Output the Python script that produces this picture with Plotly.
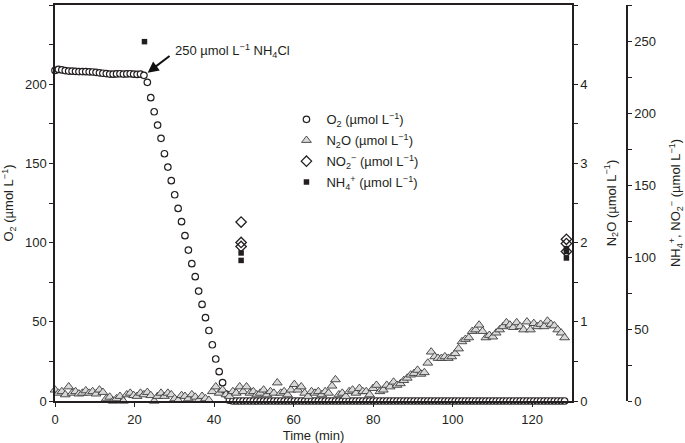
import plotly.graph_objects as go

# ---- data ----
time_min = [
    0.0, 0.86, 1.72, 2.58, 3.44, 4.3, 5.16, 6.02, 6.88, 7.74,
    8.6, 9.46, 10.32, 11.18, 12.04, 12.9, 13.76, 14.62, 15.48, 16.34,
    17.2, 18.06, 18.92, 19.78, 20.64, 21.5, 22.36, 23.22, 24.08, 24.94,
    25.8, 26.66, 27.52, 28.38, 29.24, 30.1, 30.96, 31.82, 32.68, 33.54,
    34.4, 35.26, 36.12, 36.98, 37.84, 38.7, 39.56, 40.42, 41.28, 42.14,
    43.0, 43.86, 44.72, 45.58, 46.44, 47.3, 48.16, 49.02, 49.88, 50.74,
    51.6, 52.46, 53.32, 54.18, 55.04, 55.9, 56.76, 57.62, 58.48, 59.34,
    60.2, 61.06, 61.92, 62.78, 63.64, 64.5, 65.36, 66.22, 67.08, 67.94,
    68.8, 69.66, 70.52, 71.38, 72.24, 73.1, 73.96, 74.82, 75.68, 76.54,
    77.4, 78.26, 79.12, 79.98, 80.84, 81.7, 82.56, 83.42, 84.28, 85.14,
    86.0, 86.86, 87.72, 88.58, 89.44, 90.3, 91.16, 92.02, 92.88, 93.74,
    94.6, 95.46, 96.32, 97.18, 98.04, 98.9, 99.76, 100.62, 101.48, 102.34,
    103.2, 104.06, 104.92, 105.78, 106.64, 107.5, 108.36, 109.22, 110.08, 110.94,
    111.8, 112.66, 113.52, 114.38, 115.24, 116.1, 116.96, 117.82, 118.68, 119.54,
    120.4, 121.26, 122.12, 122.98, 123.84, 124.7, 125.56, 126.42, 127.28, 128.14,
]

o2_values = [
    208.7, 209.3, 209.0, 208.6, 208.3, 208.2, 208.1, 208.0, 208.0, 207.9,
    207.8, 207.7, 207.5, 207.2, 206.9, 206.7, 206.4, 206.3, 206.5, 206.6,
    206.4, 206.5, 206.6, 206.3, 206.2, 206.4, 205.6, 201.2, 191.5, 182.6,
    174.2, 165.8, 156.1, 147.7, 139.1, 130.2, 121.6, 113.2, 104.4, 95.3,
    86.7, 78.5, 69.4, 61.0, 52.6, 44.5, 35.5, 26.5, 18.5, 11.6,
    4.4, 0.5, 0, 0, 0, 0, 0, 0, 0, 0,
    0, 0, 0, 0, 0, 0, 0, 0, 0, 0,
    0, 0, 0, 0, 0, 0, 0, 0, 0, 0,
    0, 0, 0, 0, 0, 0, 0, 0, 0, 0,
    0, 0, 0, 0, 0, 0, 0, 0, 0, 0,
    0, 0, 0, 0, 0, 0, 0, 0, 0, 0,
    0, 0, 0, 0, 0, 0, 0, 0, 0, 0,
    0, 0, 0, 0, 0, 0, 0, 0, 0, 0,
    0, 0, 0, 0, 0, 0, 0, 0, 0, 0,
    0, 0, 0, 0, 0, 0, 0, 0, 0, 0,
]

n2o_values = [
    0.14, 0.10, 0.12, 0.08, 0.18, 0.10, 0.12, 0.09, 0.10, 0.13,
    0.10, 0.12, 0.09, 0.14, 0.11, 0.03, 0.05, 0.00, 0.03, 0.06,
    0.00, 0.08, 0.10, 0.07, 0.06, 0.10, 0.08, 0.11, 0.07, 0.00,
    0.06, 0.10, 0.06, 0.10, 0.08, 0.03, 0.01, 0.07, 0.06, 0.03,
    0.08, 0.05, 0.01, 0.06, 0.03, 0.01, 0.12, 0.18, 0.10, 0.14,
    0.08, 0.06, 0.12, 0.10, 0.18, 0.12, 0.18, 0.10, 0.12, 0.08,
    0.10, 0.14, 0.08, 0.12, 0.10, 0.23, 0.10, 0.12, 0.08, 0.14,
    0.21, 0.14, 0.18, 0.10, 0.06, 0.12, 0.10, 0.12, 0.08, 0.12,
    0.10, 0.19, 0.27, 0.08, 0.10, 0.06, 0.12, 0.14, 0.10, 0.16,
    0.12, 0.12, 0.08, 0.16, 0.20, 0.12, 0.14, 0.20, 0.18, 0.24,
    0.20, 0.22, 0.26, 0.29, 0.33, 0.35, 0.39, 0.34, 0.36, 0.48,
    0.62, 0.56, 0.54, 0.54, 0.56, 0.54, 0.56, 0.60, 0.66, 0.75,
    0.78, 0.80, 0.88, 0.90, 0.96, 0.88, 0.80, 0.83, 0.81, 0.86,
    0.90, 0.94, 0.99, 0.96, 0.93, 0.99, 0.94, 0.90, 1.00, 0.90,
    0.98, 0.94, 0.97, 0.94, 1.01, 0.97, 0.95, 0.90, 0.86, 0.80,
]

no2_time = [46.8, 46.8, 46.8, 128.6, 128.6, 128.6]
no2_values = [124.5, 110.3, 107.5, 112.5, 109.5, 104.0]

nh4_time = [22.5, 46.8, 46.8, 128.6, 128.6, 128.6]
nh4_values = [250.0, 103.0, 97.8, 106.0, 104.0, 99.5]

x_ticks = [0, 20, 40, 60, 80, 100, 120]
o2_ticks = [0, 50, 100, 150, 200, 250]
n2o_ticks = [0, 1, 2, 3, 4, 5]
n_ticks = [0, 50, 100, 150, 200, 250]

FONT = "Liberation Sans, Arial, sans-serif"
TXT = "#231f20"
AX = "#231f20"
UNIT = " (µmol L<sup>−1</sup>)"

fig = go.Figure()

fig.add_trace(go.Scatter(
    x=time_min, y=n2o_values, yaxis="y2", mode="markers",
    name="N<sub>2</sub>O" + UNIT, legendrank=2, legendgroup="n2o",
    marker=dict(symbol="triangle-up", size=8.5, color="#d9d9d9",
                line=dict(color="#3c3c3c", width=0.9)),
    cliponaxis=False,
))
fig.add_trace(go.Scatter(
    x=time_min, y=o2_values, yaxis="y", mode="markers",
    name="O<sub>2</sub>" + UNIT, legendrank=1, legendgroup="o2",
    marker=dict(symbol="circle", size=6.5, color="white",
                line=dict(color="#231f20", width=1.2)),
    cliponaxis=False,
))
fig.add_trace(go.Scatter(
    x=no2_time, y=no2_values, yaxis="y3", mode="markers",
    name="NO<sub>2</sub><sup>−</sup>" + UNIT, legendrank=3, legendgroup="no2",
    marker=dict(symbol="diamond-open", size=8,
                line=dict(color="#231f20", width=1.3), color="#231f20"),
    cliponaxis=False,
))
fig.add_trace(go.Scatter(
    x=nh4_time, y=nh4_values, yaxis="y3", mode="markers",
    name="NH<sub>4</sub><sup>+</sup>" + UNIT, legendrank=4, legendgroup="nh4",
    marker=dict(symbol="square", size=5.5, color="#231f20",
                line=dict(width=0)),
    cliponaxis=False,
))

common_axis = dict(showline=True, linecolor=AX, linewidth=1.5, ticks="outside",
                   ticklen=4, tickwidth=1.3, tickcolor=AX, showgrid=False,
                   zeroline=False, tickfont=dict(size=13, color=TXT, family=FONT))

fig.update_layout(
    width=685, height=443,
    margin=dict(l=55, r=0, t=5, b=42),
    paper_bgcolor="white", plot_bgcolor="white",
    font=dict(family=FONT, size=13, color=TXT),
    showlegend=True,
    legend=dict(x=0.3674, y=0.749, xanchor="left", yanchor="top",
                bgcolor="rgba(0,0,0,0)", font=dict(size=13, color=TXT),
                tracegroupgap=1, itemsizing="trace"),
    xaxis=dict(common_axis, domain=[0, 0.8206], range=[0, 130],
               tickvals=x_ticks, mirror=True, ticklabelstandoff=2,
               title=dict(text="Time (min)", font=dict(size=13, color=TXT), standoff=7)),
    yaxis=dict(common_axis, range=[0, 250], tickvals=o2_ticks,
               minor=dict(dtick=25, ticks="outside", ticklen=4, tickcolor=AX, tickwidth=1.3),
               title=dict(text="O<sub>2</sub>" + UNIT, font=dict(size=13, color=TXT), standoff=10)),
    yaxis2=dict(common_axis, range=[0, 5], tickvals=n2o_ticks, overlaying="y",
                side="right", anchor="x",
                minor=dict(dtick=0.5, ticks="outside", ticklen=4, tickcolor=AX, tickwidth=1.3),
                title=dict(text="N<sub>2</sub>O" + UNIT, font=dict(size=13, color=TXT), standoff=20)),
    yaxis3=dict(common_axis, range=[0, 275.5], tickvals=n_ticks, overlaying="y",
                side="right", anchor="free", position=0.9079,
                minor=dict(tickvals=[25, 75, 125, 175, 225, 275], ticks="outside",
                           ticklen=4, tickcolor=AX, tickwidth=1.3),
                title=dict(text="NH<sub>4</sub><sup>+</sup>, NO<sub>2</sub><sup>−</sup>" + UNIT,
                           font=dict(size=13, color=TXT), standoff=20)),
)

# arrow and label for the NH4Cl addition
fig.add_annotation(x=23.3, y=207.3, xref="x", yref="y", text="",
                   showarrow=True, ax=23.4, ay=-17.7, arrowhead=2,
                   arrowsize=1.1, arrowwidth=2, arrowcolor="#111111")
fig.add_annotation(x=29.6, y=221, xref="x", yref="y",
                   text="250 µmol L<sup>−1</sup> NH<sub>4</sub>Cl",
                   showarrow=False, xanchor="left", yanchor="middle",
                   font=dict(size=13, color=TXT, family=FONT))

fig.write_html("out.html",
               config={"displayModeBar": False},
               post_script="document.body.style.margin='0';"
                           "document.body.style.overflow='hidden';")
